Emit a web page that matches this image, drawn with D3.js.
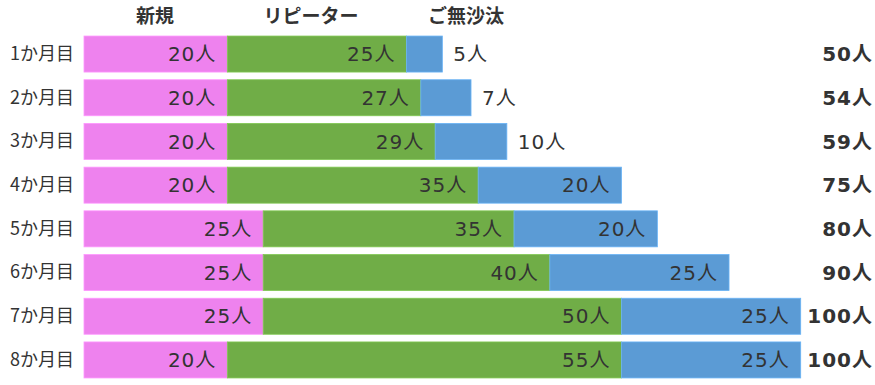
<!DOCTYPE html>
<html><head><meta charset="utf-8">
<script src="https://cdn.jsdelivr.net/npm/d3@7"></script>
<style>
body{margin:0;background:#fff;}
svg{display:block;font-family:"Noto Sans CJK JP","Noto Sans",sans-serif;}
</style></head>
<body><svg id="c" width="875" height="385"></svg>
<script>
const categories = ["1か月目","2か月目","3か月目","4か月目","5か月目","6か月目","7か月目","8か月目"];
const seriesNames = ["新規","リピーター","ご無沙汰"];
const newVals = [20,20,20,20,25,25,25,20];
const repeatVals = [25,27,29,35,35,40,50,55];
const dormantVals = [5,7,10,20,20,25,25,25];
const unit = "人";
const colors = ["#EE82EE","#70AD47","#5B9BD5"];

const svg = d3.select("#c");
const rows = categories.map((c,i)=>({cat:c, v:[newVals[i],repeatVals[i],dormantVals[i]]}));
const x = d3.scaleLinear().domain([0,100]).range([84,800.7]);
const y = d3.scaleBand().domain(categories).range([32.2,381.8]).paddingInner(0.176).paddingOuter(0.088);
const txt = "#333";
const numFont = "'DejaVu Sans','Noto Sans CJK JP',sans-serif";

// headers
const headerX = [155,311,466];
svg.selectAll("text.hdr").data(seriesNames).join("text")
  .attr("x",(d,i)=>headerX[i]).attr("y",23).attr("text-anchor","middle")
  .attr("font-size",19).attr("font-weight","bold").attr("fill",txt).text(d=>d);

rows.forEach(r=>{
  let acc=0;
  const g = svg.append("g");
  r.v.forEach((v,j)=>{
    const x0=x(acc), x1=x(acc+v);
    g.append("rect").attr("x",x0).attr("y",y(r.cat)).attr("width",x1-x0).attr("height",y.bandwidth())
      .attr("fill",colors[j]).attr("stroke",d3.color(colors[j]).brighter(0.4)).attr("stroke-width",0.8);
    const inside = v>=15;
    g.append("text").attr("x", inside? x1-11 : x1+11)
      .attr("y", y(r.cat)+y.bandwidth()/2).attr("dy","0.36em")
      .attr("text-anchor", inside?"end":"start")
      .attr("font-family",numFont).attr("letter-spacing",1)
      .attr("font-size",20).attr("fill",txt).text(v+unit);
    acc+=v;
  });
  g.append("text").attr("x",873).attr("y",y(r.cat)+y.bandwidth()/2).attr("dy","0.36em")
    .attr("text-anchor","end").attr("font-size",20).attr("font-weight","bold").attr("fill",txt)
    .attr("font-family",numFont).attr("letter-spacing",1)
    .text(d3.sum(r.v)+unit);
});

// category axis
const axis = svg.append("g").attr("transform","translate(74,0)")
  .call(d3.axisLeft(y).tickSize(0).tickPadding(0));
axis.select(".domain").remove();
axis.selectAll("text").attr("font-size",18).attr("fill",txt)
  .attr("font-family","'Noto Sans CJK JP',sans-serif");
</script></body></html>
